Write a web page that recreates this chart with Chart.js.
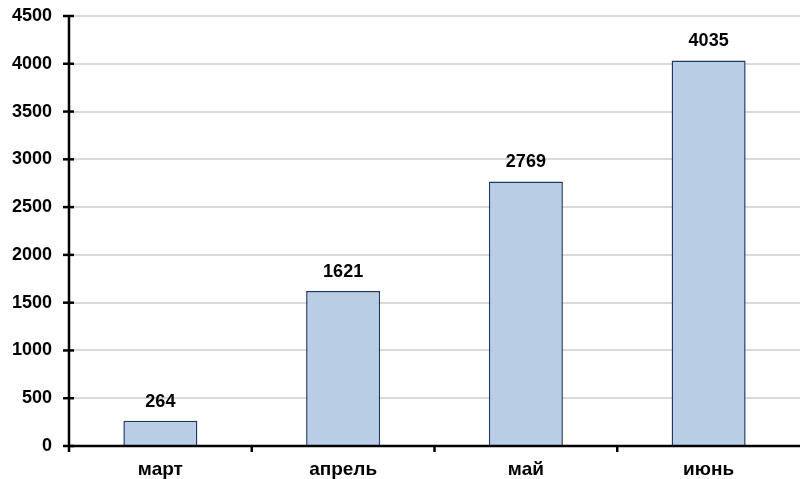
<!DOCTYPE html>
<html>
<head>
<meta charset="utf-8">
<script src="https://cdn.jsdelivr.net/npm/chart.js@4.4.1/dist/chart.umd.min.js"></script>
<style>
  html, body { margin: 0; padding: 0; background: #fff; }
  #wrap { width: 805px; height: 479px; position: relative; }
</style>
</head>
<body>
<div id="wrap"><canvas id="c" width="805" height="479"></canvas></div>
<script>
const months = ['март', 'апрель', 'май', 'июнь'];
const counts = [264, 1621, 2769, 4035];
const yMax = 4500;
const yStep = 500;

const FONT = '"Liberation Sans", Arial, sans-serif';

// Value labels above bars and cross-shaped axis ticks
const overlay = {
  id: 'overlay',
  afterDatasetsDraw(chart) {
    const ctx = chart.ctx;
    const meta = chart.getDatasetMeta(0);
    ctx.save();
    ctx.font = 'bold 18px ' + FONT;
    ctx.fillStyle = '#000';
    ctx.textAlign = 'center';
    ctx.textBaseline = 'alphabetic';
    meta.data.forEach((bar, i) => {
      ctx.fillText(String(counts[i]), bar.x, bar.y - 14);
    });
    ctx.restore();
  },
  afterDraw(chart) {
    const ctx = chart.ctx;
    const ys = chart.scales.y, xs = chart.scales.x;
    const area = chart.chartArea;
    ctx.save();
    ctx.strokeStyle = '#000';
    ctx.lineWidth = 2.5;
    // y axis line
    ctx.beginPath();
    ctx.moveTo(area.left, ys.getPixelForValue(yMax));
    ctx.lineTo(area.left, ys.getPixelForValue(0));
    ctx.stroke();
    // x axis line
    ctx.beginPath();
    ctx.moveTo(area.left, ys.getPixelForValue(0));
    ctx.lineTo(area.right, ys.getPixelForValue(0));
    ctx.stroke();
    // y ticks crossing the axis
    for (let v = 0; v <= yMax; v += yStep) {
      const y = ys.getPixelForValue(v);
      ctx.beginPath();
      ctx.moveTo(area.left - 6, y);
      ctx.lineTo(area.left + 5, y);
      ctx.stroke();
    }
    // x ticks at category boundaries
    const y0 = ys.getPixelForValue(0);
    for (let i = 0; i <= months.length - 1; i++) {
      const x = i === 0 ? area.left : (xs.getPixelForValue(i - 1) + xs.getPixelForValue(i)) / 2;
      ctx.beginPath();
      ctx.moveTo(x, y0);
      ctx.lineTo(x, y0 + 6);
      ctx.stroke();
    }
    ctx.restore();
  }
};

new Chart(document.getElementById('c'), {
  type: 'bar',
  data: {
    labels: months,
    datasets: [{
      data: counts,
      backgroundColor: '#b9cde5',
      borderColor: '#1f3864',
      borderWidth: 1.5,
      barPercentage: 0.405,
      categoryPercentage: 1.0
    }]
  },
  options: {
    responsive: false,
    animation: false,
    layout: { padding: { left: 0, right: 5, top: 16, bottom: 0 } },
    plugins: { legend: { display: false }, tooltip: { enabled: false } },
    scales: {
      y: {
        min: 0, max: yMax,
        ticks: {
          stepSize: yStep,
          color: '#000',
          font: { family: FONT, size: 18, weight: 'bold' },
          padding: 17,
          callback: (v) => String(v)
        },
        grid: { color: '#d9d9d9', lineWidth: 2, drawTicks: false },
        border: { display: false },
        afterFit(scale) {
          scale.width = 69;
          scale.paddingTop = 0;
          scale.paddingBottom = 0;
        }
      },
      x: {
        ticks: {
          color: '#000',
          font: { family: FONT, size: 19, weight: 'bold' },
          padding: 12
        },
        grid: { display: false, drawTicks: false },
        border: { display: false },
        afterFit(scale) {
          scale.height = 33;
          scale.paddingLeft = 0;
          scale.paddingRight = 0;
        }
      }
    }
  },
  plugins: [overlay]
});
</script>
</body>
</html>
